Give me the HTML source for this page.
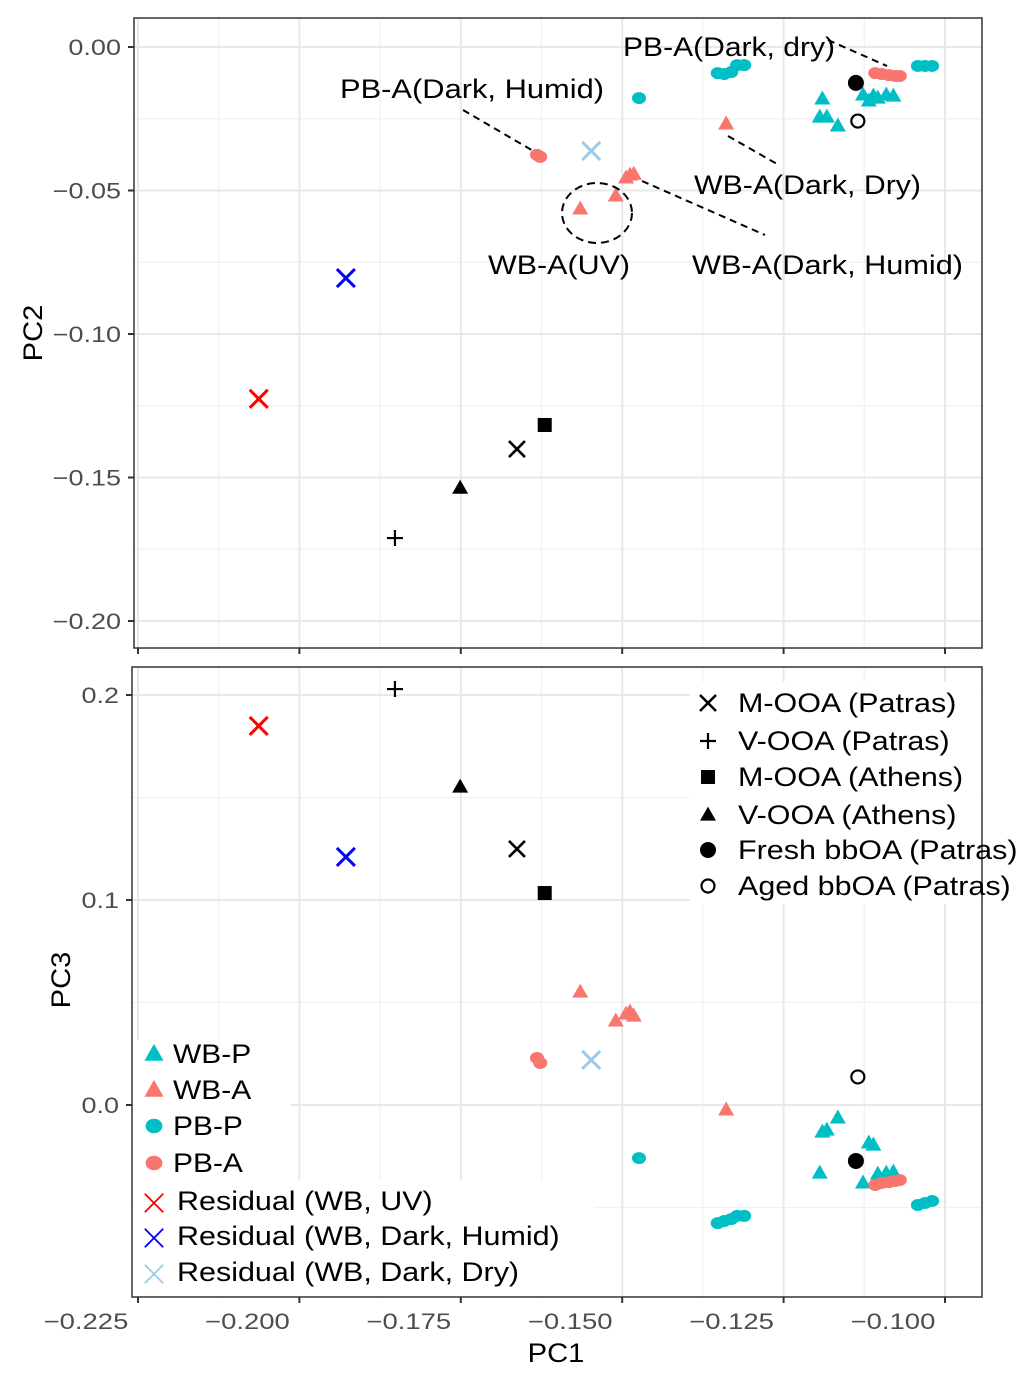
<!DOCTYPE html>
<html><head><meta charset="utf-8">
<style>
body{margin:0;background:#fff;}
svg text{font-family:"Liberation Sans",sans-serif;}
</style></head>
<body>
<svg id="chart" width="1033" height="1381" viewBox="0 0 1033 1381" xmlns="http://www.w3.org/2000/svg">
<rect width="1033" height="1381" fill="#fff"/>
<g id="grid"></g>
<g id="marks"></g>
<g id="overlay"></g>
</svg>
<script>
// ---- data ----
const refNames = ["M-OOA (Patras)","V-OOA (Patras)","M-OOA (Athens)","V-OOA (Athens)","Fresh bbOA (Patras)","Aged bbOA (Patras)"];
const refShapes = ["x","plus","square","tri","dot","ring"];
const refPC1 = [-0.1663,-0.1852,-0.1620,-0.1751,-0.1138,-0.1135];
const refPC2 = [-0.1401,-0.1711,-0.1317,-0.1537,-0.0125,-0.0258];
const refPC3 = [0.1249,0.2029,0.1034,0.1551,-0.0273,0.0137];

const resNames = ["Residual (WB, UV)","Residual (WB, Dark, Humid)","Residual (WB, Dark, Dry)"];
const resColors = ["#ff0000","#0000ff","#9ccbe8"];
const resPC1 = [-0.2063,-0.1928,-0.1548];
const resPC2 = [-0.1226,-0.0805,-0.0362];
const resPC3 = [0.1849,0.1210,0.0220];

const wbaPC1 = [-0.1565,-0.1510,-0.1494,-0.1488,-0.1482,-0.1339];
const wbaPC2 = [-0.0564,-0.0519,-0.0456,-0.0446,-0.0443,-0.0268];
const wbaPC3 = [0.0551,0.0410,0.0444,0.0454,0.0434,-0.0024];

const pbaPC1 = [-0.1632,-0.1627,-0.1108,-0.1098,-0.1087,-0.1077,-0.1070];
const pbaPC2 = [-0.0376,-0.0383,-0.0091,-0.0094,-0.0098,-0.0101,-0.0101];
const pbaPC3 = [0.0229,0.0205,-0.0390,-0.0380,-0.0376,-0.0371,-0.0366];

const wbpPC1 = [-0.1190,-0.1194,-0.1183,-0.1166,-0.1127,-0.1118,-0.1111,-0.1104,-0.1091,-0.1080];
const wbpPC2 = [-0.0181,-0.0244,-0.0244,-0.0275,-0.0167,-0.0188,-0.0171,-0.0178,-0.0167,-0.0171];
const wbpPC3 = [-0.0132,-0.0332,-0.0122,-0.0063,-0.0380,-0.0185,-0.0195,-0.0337,-0.0332,-0.0327];

const pbpPC1 = [-0.1474,-0.1352,-0.1342,-0.1331,-0.1322,-0.1311,-0.1042,-0.1031,-0.1020];
const pbpPC2 = [-0.0178,-0.0091,-0.0094,-0.0087,-0.0063,-0.0063,-0.0066,-0.0066,-0.0066];
const pbpPC3 = [-0.0259,-0.0576,-0.0566,-0.0556,-0.0541,-0.0541,-0.0488,-0.0478,-0.0468];

const xTicks = [-0.225,-0.2,-0.175,-0.15,-0.125,-0.1];
const xTickLabels = ["\u22120.225","\u22120.200","\u22120.175","\u22120.150","\u22120.125","\u22120.100"];
const y2Ticks = [0,-0.05,-0.1,-0.15,-0.2];
const y2TickLabels = ["0.00","\u22120.05","\u22120.10","\u22120.15","\u22120.20"];
const y3Ticks = [0.2,0.1,0];
const y3TickLabels = ["0.2","0.1","0.0"];

// ---- axes ----
const X = v => 138 + (v + 0.225) * 6456;
const Y2 = v => 47 - v * 2870;
const Y3 = v => 1105 - v * 2050;
const P1 = {x0:134,x1:982,y0:18,y1:648};
const P2 = {x0:132,x1:982,y0:667,y1:1297};
const NS = "http://www.w3.org/2000/svg";
function mk(tag, attrs, parent, txt){
  const e = document.createElementNS(NS, tag);
  for (const k in attrs) e.setAttribute(k, attrs[k]);
  if (txt !== undefined) e.textContent = txt;
  parent.appendChild(e);
  return e;
}
function stretch(t, f){
  const w = t.getComputedTextLength();
  if (w > 0){
    t.setAttribute('textLength', (w*f).toFixed(1));
    t.setAttribute('lengthAdjust', 'spacingAndGlyphs');
  }
}
const grid = document.getElementById('grid');
const marks = document.getElementById('marks');
const overlay = document.getElementById('overlay');

function panel(P, Y, yTicks, yLabels, yMinorStep, name){
  const g = mk('g', {}, grid);
  
  
  mk('rect', {x:P.x0,y:P.y0,width:P.x1-P.x0,height:P.y1-P.y0,fill:'#fff'}, g);
  for (let i=0;i<xTicks.length;i++){
    const xm = X(xTicks[i]+0.0125);
    if (xm < P.x1) mk('line',{x1:xm,x2:xm,y1:P.y0,y2:P.y1,stroke:'#f1f1f1','stroke-width':1.2},g);
  }
  for (let i=0;i<yTicks.length;i++){
    const ym = Y(yTicks[i] + yMinorStep);
    if (ym > P.y0 && ym < P.y1) mk('line',{x1:P.x0,x2:P.x1,y1:ym,y2:ym,stroke:'#f1f1f1','stroke-width':1.2},g);
    const ym2 = Y(yTicks[i] - yMinorStep);
    if (i==yTicks.length-1 && ym2 > P.y0 && ym2 < P.y1) mk('line',{x1:P.x0,x2:P.x1,y1:ym2,y2:ym2,stroke:'#f1f1f1','stroke-width':1.2},g);
  }
  xTicks.forEach(t=>{
    mk('line',{x1:X(t),x2:X(t),y1:P.y0,y2:P.y1,stroke:'#e8e8e8','stroke-width':2},g);
    mk('line',{x1:X(t),x2:X(t),y1:P.y1,y2:P.y1+6,stroke:'#333','stroke-width':2},g);
  });
  yTicks.forEach((t,i)=>{
    mk('line',{x1:P.x0,x2:P.x1,y1:Y(t),y2:Y(t),stroke:'#e8e8e8','stroke-width':2},g);
    mk('line',{x1:P.x0-6,x2:P.x0,y1:Y(t),y2:Y(t),stroke:'#333','stroke-width':2},g);
    const tl = mk('text',{x:P.x0-13,y:Y(t)+8,'text-anchor':'end','font-size':22.5,fill:'#4d4d4d'},g,yLabels[i]);
    
    
    stretch(tl, 1.2);
  });
  mk('rect',{x:P.x0,y:P.y0,width:P.x1-P.x0,height:P.y1-P.y0,fill:'none',stroke:'#333','stroke-width':1.5},g);
}
panel(P1, Y2, y2Ticks, y2TickLabels, 0.025, 'pc2');
panel(P2, Y3, y3Ticks, y3TickLabels, 0.05, 'pc3');

xTicks.forEach((t,i)=>{
  const tl = mk('text',{x:X(t)-52,y:1329,'text-anchor':'middle','font-size':22.5,fill:'#4d4d4d'},grid,xTickLabels[i]);
  
  
  stretch(tl, 1.22);
});
let at = mk('text',{x:556,y:1362,'text-anchor':'middle','font-size':27,fill:'#000'},grid,'PC1');


stretch(at, 1.08);
at = mk('text',{x:0,y:0,'text-anchor':'middle','font-size':27,fill:'#000',transform:'translate(42,333) rotate(-90)'},grid,'PC2');


stretch(at, 1.08);
at = mk('text',{x:0,y:0,'text-anchor':'middle','font-size':27,fill:'#000',transform:'translate(70,980) rotate(-90)'},grid,'PC3');


stretch(at, 1.08);

mk('rect',{x:133,y:1040,width:158,height:140,fill:'#fff'},grid);
mk('rect',{x:133,y:1180,width:461,height:116,fill:'#fff'},grid);
mk('rect',{x:690,y:682,width:291,height:222,fill:'#fff'},grid);

// ---- marker drawing ----
function shape(kind, cx, cy, color, parent, s){
  s = s || 1;
  let e;
  if (kind==='tri'){
    const h=14*s, w=16*s;
    e = mk('polygon',{points:`${cx},${cy-h*0.6} ${cx-w/2},${cy+h*0.4} ${cx+w/2},${cy+h*0.4}`,fill:color},parent);
  } else if (kind==='dot'){
    e = mk('circle',{cx:cx,cy:cy,r:8*s,fill:color},parent);
  } else if (kind==='pdot'){
    e = mk('ellipse',{cx:cx,cy:cy,rx:7*s,ry:6*s,fill:color},parent);
  } else if (kind==='ring'){
    e = mk('circle',{cx:cx,cy:cy,r:6.5*s,fill:'none',stroke:color,'stroke-width':2.2},parent);
  } else if (kind==='square'){
    e = mk('rect',{x:cx-7*s,y:cy-7*s,width:14*s,height:14*s,fill:color},parent);
  } else if (kind==='plus'){
    e = mk('path',{d:`M${cx-8*s},${cy}H${cx+8*s}M${cx},${cy-8*s}V${cy+8*s}`,stroke:color,'stroke-width':2.2,fill:'none'},parent);
  } else if (kind==='x'){
    e = mk('path',{d:`M${cx-8*s},${cy-8*s}L${cx+8*s},${cy+8*s}M${cx+8*s},${cy-8*s}L${cx-8*s},${cy+8*s}`,stroke:color,'stroke-width':2.6,fill:'none'},parent);
  } else if (kind==='xl'){
    e = mk('path',{d:`M${cx-9*s},${cy-9*s}L${cx+9*s},${cy+9*s}M${cx+9*s},${cy-9*s}L${cx-9*s},${cy+9*s}`,stroke:color,'stroke-width':3,fill:'none'},parent);
  }
  return e;
}
function series(xs, y2s, y3s, kind, color, name){
  for (let i=0;i<xs.length;i++){
    const a = shape(kind, X(xs[i]), Y2(y2s[i]), color, marks);
    
    
    const b = shape(kind, X(xs[i]), Y3(y3s[i]), color, marks);
    
    
  }
}
series(pbpPC1, pbpPC2, pbpPC3, 'pdot', '#00bfc4', 'pb-p');
series(wbpPC1, wbpPC2, wbpPC3, 'tri', '#00bfc4', 'wb-p');
series(pbaPC1, pbaPC2, pbaPC3, 'pdot', '#f8766d', 'pb-a');
series(wbaPC1, wbaPC2, wbaPC3, 'tri', '#f8766d', 'wb-a');
for (let i=0;i<resPC1.length;i++){
  series([resPC1[i]],[resPC2[i]],[resPC3[i]],'xl',resColors[i],'residual-'+i);
}
for (let i=0;i<refPC1.length;i++){
  series([refPC1[i]],[refPC2[i]],[refPC3[i]],refShapes[i],'#000','reference-'+i);
}

// ---- annotations ----
const ann = [
  ["PB-A(Dark, dry)",623,56,212],["PB-A(Dark, Humid)",340,98,264],["WB-A(Dark, Dry)",694,194,227],
  ["WB-A(UV)",488,274,142],["WB-A(Dark, Humid)",692,274,271]
];
ann.forEach(a=>{
  const t = mk('text',{x:a[1],y:a[2],'font-size':27,fill:'#000',textLength:a[3],lengthAdjust:'spacingAndGlyphs'},overlay,a[0]);
  
  
});
[[828,40,887,66],[463,110,535,152],[728,136,777,164],[642,181,765,235]].forEach(l=>{
  const d = mk('line',{x1:l[0],y1:l[1],x2:l[2],y2:l[3],stroke:'#000','stroke-width':2,'stroke-dasharray':'7,5'},overlay);
  
  
});
const el = mk('ellipse',{cx:597,cy:213,rx:35,ry:30,fill:'none',stroke:'#000','stroke-width':2,'stroke-dasharray':'8,5'},overlay);



// ---- legends ----
const legRefY = [703,741,777,815,850,886];
refNames.forEach((n,i)=>{
  const s = shape(refShapes[i], 708, legRefY[i], '#000', overlay);
  
  
  const t = mk('text',{x:738,y:legRefY[i]+9,'font-size':26.5,fill:'#000'},overlay,n);
  
  
  stretch(t, 1.15);
});
const grpNames = ["WB-P","WB-A","PB-P","PB-A"];
const grpShapes = ["tri","tri","pdot","pdot"];
const grpColors = ["#00bfc4","#f8766d","#00bfc4","#f8766d"];
const grpY = [1054,1090,1126,1163];
grpNames.forEach((n,i)=>{
  const s = shape(grpShapes[i], 154, grpY[i], grpColors[i], overlay, 1.2);
  
  
  const t = mk('text',{x:173,y:grpY[i]+9,'font-size':26.5,fill:'#000'},overlay,n);
  
  
  stretch(t, 1.13);
});
const resLegY = [1201,1236,1272];
resNames.forEach((n,i)=>{
  const s = shape('x', 154, resLegY[i]+2, resColors[i], overlay, 1.15);
  s.setAttribute('stroke-width','1.8');
  
  
  const t = mk('text',{x:177,y:resLegY[i]+9,'font-size':26.5,fill:'#000'},overlay,n);
  
  
  stretch(t, 1.15);
});
</script>
</body></html>
